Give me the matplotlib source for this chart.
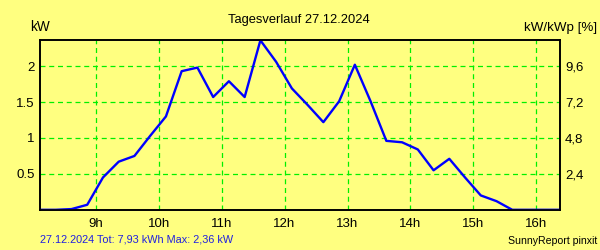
import numpy as np
import matplotlib
matplotlib.use('Agg')
from matplotlib import pyplot as plt

# Tagesverlauf 27.12.2024, 15-min Werte
times = ['08:07','08:22','08:37','08:52','09:07','09:22','09:37','09:52',
         '10:07','10:22','10:37','10:52','11:07','11:22','11:37','11:52',
         '12:07','12:22','12:37','12:52','13:07','13:22','13:37','13:52',
         '14:07','14:22','14:37','14:52','15:07','15:22','15:37','15:52',
         '16:07','16:22']
kw = [0, 0, 0.01, 0.07, 0.45, 0.67, 0.75, 1.03,
      1.30, 1.93, 1.98, 1.57, 1.79, 1.57, 2.36, 2.06,
      1.69, 1.46, 1.22, 1.51, 2.02, 1.51, 0.96, 0.94,
      0.84, 0.55, 0.71, 0.45, 0.20, 0.12, 0.0, 0,
      0, 0]
hours = [9, 10, 11, 12, 13, 14, 15, 16]
hour_labels = ['9h', '10h', '11h', '12h', '13h', '14h', '15h', '16h']
kw_ticks = [0.5, 1, 1.5, 2]
kw_tick_labels = ['0.5', '1', '1.5', '2']
pct_ticks = [2.4, 4.8, 7.2, 9.6]
pct_tick_labels = ['2,4', '4,8', '7,2', '9,6']
kwp_factor = 4.8
ymax = 2.36

plt.rcParams['font.family'] = ['Liberation Sans', 'DejaVu Sans']
bg = '#FFFF80'

x = [int(t[:2]) + int(t[3:]) / 60.0 for t in times]

fig = plt.figure(figsize=(6, 2.5), dpi=100, facecolor=bg)
ax = fig.add_axes([40/600, 1-209.8/250, 519.5/600, 169.5/250], facecolor=bg)
ax.plot(x, kw, color='#0000FF', lw=1.7, zorder=3)
ax.set_xlim(x[0], x[-1])
ax.set_ylim(0, ymax)

ax.set_xticks(hours)
ax.set_xticklabels(hour_labels, fontsize=9.5)
ax.set_yticks(kw_ticks)
ax.set_yticklabels(kw_tick_labels, fontsize=9.5)
ax.tick_params(length=0, pad=4)
ax.tick_params(axis='x', pad=6)
ax.grid(True, color='#00F000', lw=0.9, ls=(0, (4, 3)))
for s in ax.spines.values():
    s.set_color('black')
    s.set_linewidth(1.2)

ax2 = ax.twinx()
ax2.set_ylim(0, ymax * kwp_factor)
ax2.set_yticks(pct_ticks)
ax2.set_yticklabels(pct_tick_labels, fontsize=9.5)
ax2.tick_params(length=0, pad=4)
for s in ax2.spines.values():
    s.set_color('black')
    s.set_linewidth(1.2)

fig.text(0.4975, 1-20/250, 'Tagesverlauf 27.12.2024', ha='center', va='center', fontsize=9.3)
fig.text(30/600, 1-27/250, 'kW', ha='left', va='center', fontsize=9.8)
fig.text(597/600, 1-28/250, 'kW/kWp [%]', ha='right', va='center', fontsize=9.6)
fig.text(40/600, 1-239.5/250, '27.12.2024 Tot: 7,93 kWh Max: 2,36 kW',
         ha='left', va='center', fontsize=7.8, color='#2020E0')
fig.text(597/600, 1-241.5/250, 'SunnyReport pinxit', ha='right', va='center', fontsize=7.6)

fig.savefig('out.png', dpi=100, facecolor=bg)
